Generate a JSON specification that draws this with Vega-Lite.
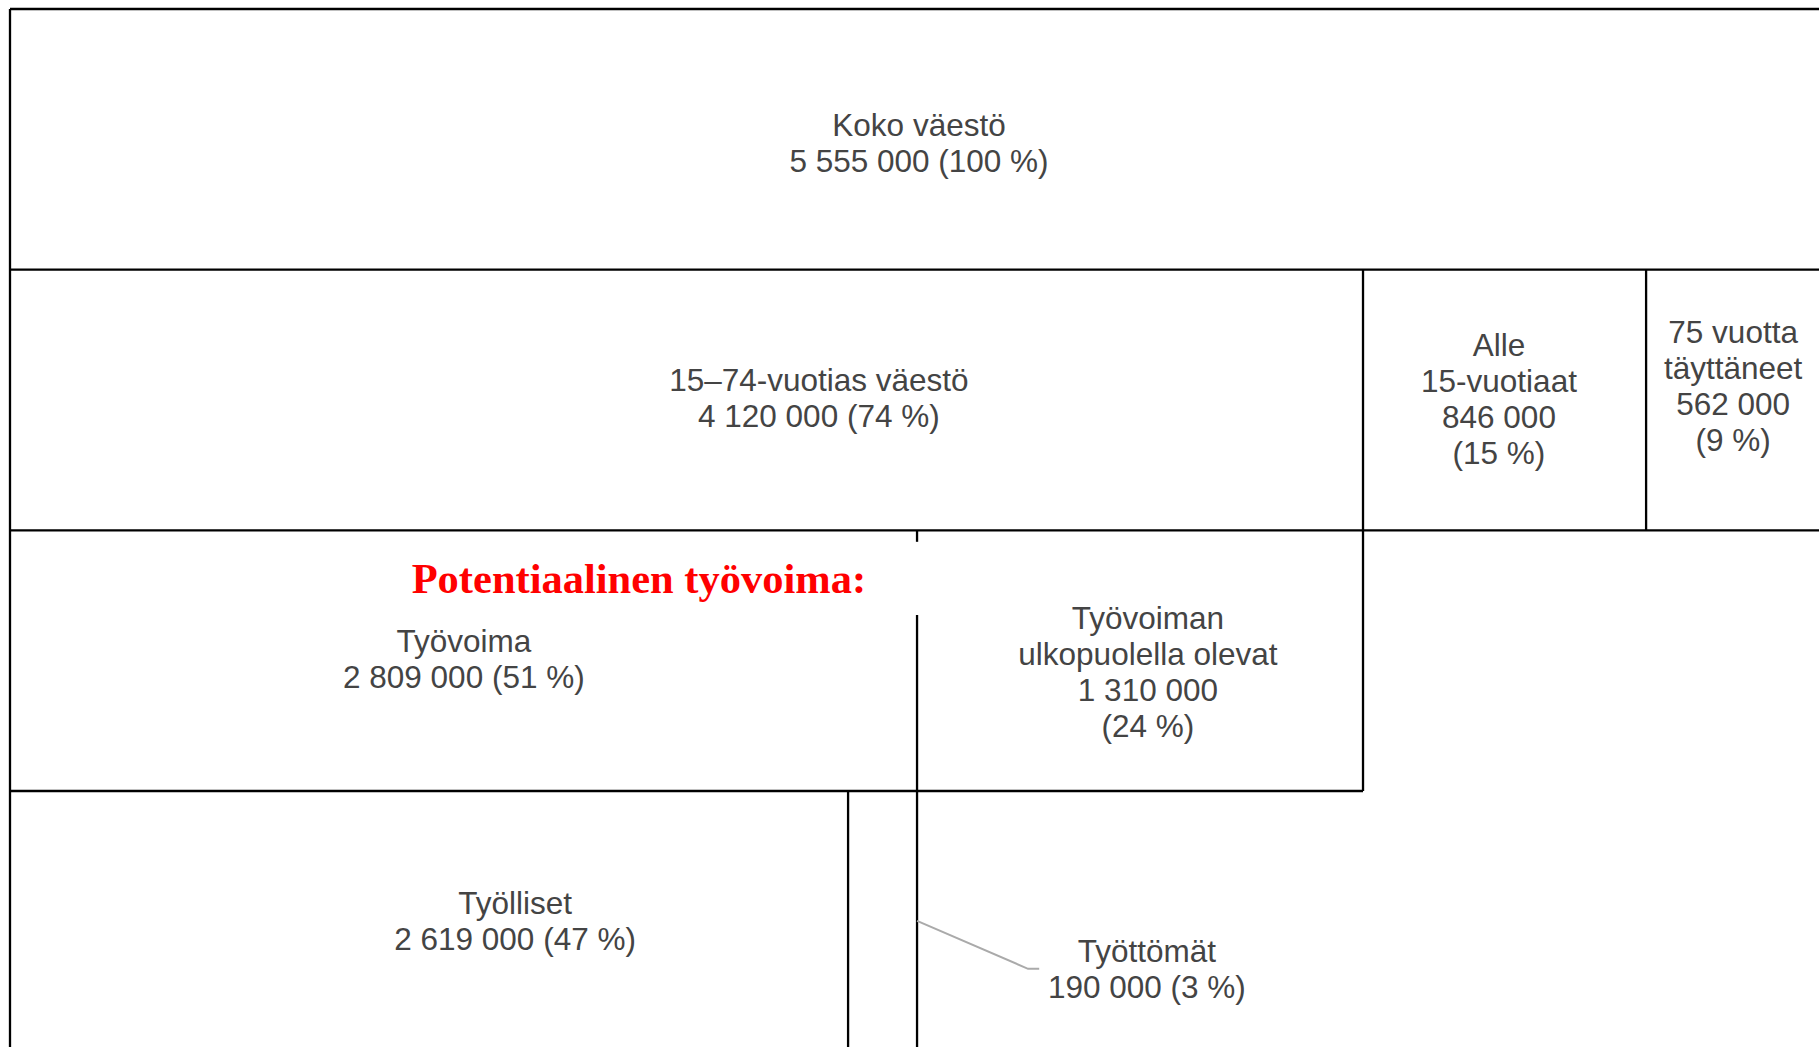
{
  "$schema": "https://vega.github.io/schema/vega-lite/v6.json",
  "width": 1819,
  "height": 1047,
  "padding": 0,
  "autosize": {"type": "none"},
  "background": "white",
  "config": {"view": {"stroke": null}},
  "datasets": {
    "lines": [
      {"x": 0, "x2": 5600, "y": 0, "y2": 0},
      {"x": 0, "x2": 5600, "y": 1, "y2": 1},
      {"x": 0, "x2": 5600, "y": 2, "y2": 2},
      {"x": 0, "x2": 4120, "y": 3, "y2": 3},
      {"x": 0, "x2": 0, "y": 0, "y2": 4.1},
      {"x": 4120, "x2": 4120, "y": 1, "y2": 3},
      {"x": 4982, "x2": 4982, "y": 1, "y2": 2},
      {"x": 2762, "x2": 2762, "y": 2, "y2": 2.044},
      {"x": 2762, "x2": 2762, "y": 2.325, "y2": 4.1},
      {"x": 2552, "x2": 2552, "y": 3, "y2": 4.1}
    ],
    "leader": [
      {"x": 2762, "y": 3.498, "o": 1},
      {"x": 3100, "y": 3.682, "o": 2},
      {"x": 3134, "y": 3.682, "o": 3}
    ],
    "labels": [
      {"x": 2768, "y": 0.454, "t": "Koko väestö\n5 555 000 (100 %)"},
      {"x": 2463, "y": 1.432, "t": "15–74-vuotias väestö\n4 120 000 (74 %)"},
      {"x": 4534, "y": 1.298, "t": "Alle\n15-vuotiaat\n846 000\n(15 %)"},
      {"x": 5247, "y": 1.248, "t": "75 vuotta\ntäyttäneet\n562 000\n(9 %)"},
      {"x": 1382, "y": 2.433, "t": "Työvoima\n2 809 000 (51 %)"},
      {"x": 3465, "y": 2.345, "t": "Työvoiman\nulkopuolella olevat\n1 310 000\n(24 %)"},
      {"x": 1538, "y": 3.436, "t": "Työlliset\n2 619 000 (47 %)"},
      {"x": 3462, "y": 3.622, "t": "Työttömät\n190 000 (3 %)"}
    ],
    "title": [
      {"x": 1915, "y": 2.19, "t": "Potentiaalinen työvoima:"}
    ]
  },
  "layer": [
    {
      "data": {"name": "lines"},
      "mark": {"type": "rule", "color": "#000000", "strokeWidth": 2.3, "clip": true},
      "encoding": {
        "x": {"field": "x", "type": "quantitative", "scale": {"domain": [-30.45, 5508.5], "nice": false, "zero": false}, "axis": null},
        "x2": {"field": "x2"},
        "y": {"field": "y", "type": "quantitative", "scale": {"domain": [-0.0345, 3.982], "reverse": true, "nice": false, "zero": false}, "axis": null},
        "y2": {"field": "y2"}
      }
    },
    {
      "data": {"name": "leader"},
      "mark": {"type": "line", "color": "#aaaaaa", "strokeWidth": 2},
      "encoding": {
        "x": {"field": "x", "type": "quantitative"},
        "y": {"field": "y", "type": "quantitative"},
        "order": {"field": "o"}
      }
    },
    {
      "data": {"name": "labels"},
      "mark": {"type": "text", "font": "Liberation Sans", "fontSize": 31.5, "color": "#444444", "lineBreak": "\n", "lineHeight": 36, "align": "center", "baseline": "middle"},
      "encoding": {
        "x": {"field": "x", "type": "quantitative"},
        "y": {"field": "y", "type": "quantitative"},
        "text": {"field": "t"}
      }
    },
    {
      "data": {"name": "title"},
      "mark": {"type": "text", "font": "Liberation Serif", "fontSize": 42.5, "fontWeight": "bold", "color": "#ff0000", "align": "center", "baseline": "middle"},
      "encoding": {
        "x": {"field": "x", "type": "quantitative"},
        "y": {"field": "y", "type": "quantitative"},
        "text": {"field": "t"}
      }
    }
  ]
}
